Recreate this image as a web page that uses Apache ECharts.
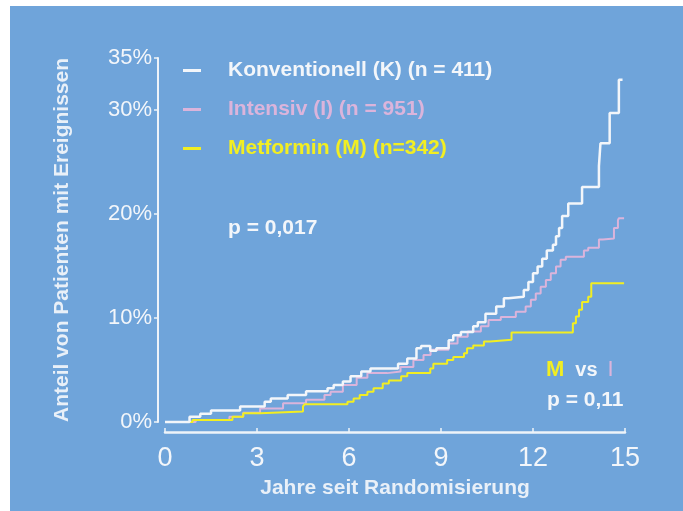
<!DOCTYPE html>
<html>
<head>
<meta charset="utf-8">
<title>Ereignisse nach Randomisierung</title>
<script src="https://cdn.jsdelivr.net/npm/echarts@6/dist/echarts.min.js"></script>
<style>
	html, body { margin: 0; padding: 0; background: #ffffff; }
	#chart { position: absolute; left: 10px; top: 6px; width: 673px; height: 505px; }
</style>
</head>
<body>
<div id="chart"></div>
<script>
	// Jahre, Anteil in %  (Stufenkurven)
	var seriesNames = ['Konventionell (K) (n = 411)', 'Intensiv (I) (n = 951)', 'Metformin (M) (n=342)'];
	var konventionell = [
		[0, 0], [0.8, 0.5], [1.15, 0.8], [1.5, 1.1], [2.45, 1.5], [3.25, 1.95], [3.45, 2.25], [4.0, 2.6],
		[4.6, 2.95], [5.3, 3.25], [5.5, 3.55], [5.8, 3.9], [6.05, 4.4], [6.4, 4.85], [6.7, 5.15], [7.6, 5.6],
		[7.9, 6.1], [8.2, 7.1], [8.35, 7.3], [8.65, 6.85], [8.85, 7.1], [9.25, 7.85], [9.4, 8.35], [9.65, 8.65],
		[10.05, 9.2], [10.2, 9.6], [10.45, 10.4], [10.8, 11.1], [11.05, 11.9], [11.2, 12.05], [11.7, 12.7],
		[11.85, 13.45], [12.0, 14.3], [12.15, 14.95], [12.3, 15.7], [12.45, 16.5], [12.65, 17.05], [12.75, 17.85],
		[12.85, 18.65], [12.95, 19.8], [13.15, 21.0], [13.6, 22.6], [14.15, 24.6], [14.2, 26.8], [14.5, 29.7],
		[14.8, 32.9], [14.92, 32.9]
	];
	var intensiv = [
		[0, 0], [1.0, 0.2], [2.1, 0.5], [2.55, 0.9], [3.1, 1.3], [3.85, 1.8], [4.6, 2.15], [5.2, 2.6], [5.4, 2.9],
		[5.8, 3.55], [6.25, 4.25], [6.6, 4.7], [7.25, 4.85], [7.68, 5.3], [8.1, 5.95], [8.43, 6.45], [8.66, 6.95],
		[9.25, 7.55], [9.54, 8.2], [9.87, 8.7], [10.3, 9.2], [10.55, 9.8], [10.95, 10.1], [11.44, 10.6],
		[11.76, 11.1], [11.93, 11.75], [12.09, 12.35], [12.25, 13.0], [12.42, 13.65], [12.58, 14.3], [12.75, 14.95],
		[12.9, 15.6], [13.07, 15.9], [13.66, 16.5], [13.8, 16.75], [14.15, 17.55], [14.28, 17.65], [14.64, 18.65],
		[14.77, 19.4], [14.8, 19.6], [14.97, 19.6]
	];
	var metformin = [
		[0, 0], [0.9, 0.2], [2.2, 0.5], [2.55, 0.85], [3.1, 1.0], [4.5, 1.5], [4.55, 1.7], [5.95, 1.95],
		[6.15, 2.25], [6.35, 2.6], [6.6, 2.9], [6.8, 3.25], [7.1, 3.7], [7.3, 4.0], [7.7, 4.4], [7.9, 4.7],
		[8.65, 5.15], [8.75, 5.6], [9.2, 5.95], [9.4, 6.25], [9.75, 6.6], [9.85, 7.1], [10.05, 7.35], [10.4, 7.75],
		[10.6, 7.9], [11.3, 8.6], [13.3, 9.5], [13.4, 10.15], [13.5, 10.8], [13.6, 11.55], [13.8, 12.05],
		[13.9, 13.35], [14.97, 13.35]
	];
	var yTicks = [0, 10, 20, 30, 35];
	var xTicks = [0, 3, 6, 9, 12, 15];

	var fontFam = '"Liberation Sans", Arial, sans-serif';
	var white = '#f3f6fa';
	var pink = '#dbb4db';
	var yellow = '#f2ee22';

	var myChart = echarts.init(document.getElementById('chart'));
	var option = {
		backgroundColor: '#6fa4da',
		animation: false,
		grid: {
			left: 155,
			right: 58,
			top: 52,
			bottom: 89
		},
		legend: {
			orient: 'vertical',
			left: 168,
			top: 49,
			itemWidth: 18,
			itemHeight: 3,
			itemGap: 18,
			icon: 'rect',
			selectedMode: false,
			textStyle: {
				fontFamily: fontFam,
				fontWeight: 'bold',
				fontSize: 21,
				lineHeight: 21,
				padding: [0, 0, 0, 22]
			},
			data: [
				{ name: seriesNames[0], textStyle: { color: white } },
				{ name: seriesNames[1], textStyle: { color: pink } },
				{ name: seriesNames[2], textStyle: { color: yellow } }
			]
		},
		xAxis: {
			type: 'value',
			min: 0,
			max: 15,
			interval: 3,
			offset: 10,
			name: 'Jahre seit Randomisierung',
			nameLocation: 'middle',
			nameGap: 46,
			nameTextStyle: {
				color: '#e9f0f8',
				fontFamily: fontFam,
				fontWeight: 'bold',
				fontSize: 21
			},
			axisLine: { onZero: false, lineStyle: { color: '#eef3f9', width: 2.5 } },
			axisTick: { inside: true, length: 4, lineStyle: { color: '#eef3f9', width: 1.5 } },
			axisLabel: {
				color: '#f3f6fa',
				fontFamily: fontFam,
				fontSize: 27,
				margin: 13,
				customValues: xTicks
			},
			splitLine: { show: false }
		},
		yAxis: {
			type: 'value',
			min: 0,
			max: 35,
			offset: 7,
			name: 'Anteil von Patienten mit Ereignissen',
			nameLocation: 'middle',
			nameGap: 85,
			nameTextStyle: {
				color: '#e9f0f8',
				fontFamily: fontFam,
				fontWeight: 'bold',
				fontSize: 21
			},
			axisLine: { show: true, onZero: false, lineStyle: { color: '#eef3f9', width: 2 } },
			axisTick: { show: true, length: 4, customValues: yTicks, lineStyle: { color: '#eef3f9', width: 1.5 } },
			axisLabel: {
				color: '#f3f6fa',
				fontFamily: fontFam,
				fontSize: 22,
				margin: 6,
				customValues: yTicks,
				formatter: '{value}%'
			},
			splitLine: { show: false }
		},
		series: [{
			name: seriesNames[1],
			type: 'line',
			step: 'end',
			showSymbol: false,
			clip: false,
			color: pink,
			lineStyle: { width: 2, color: pink },
			data: intensiv
		}, {
			name: seriesNames[2],
			type: 'line',
			step: 'end',
			showSymbol: false,
			clip: false,
			color: yellow,
			lineStyle: { width: 2, color: yellow },
			data: metformin
		}, {
			name: seriesNames[0],
			type: 'line',
			step: 'end',
			showSymbol: false,
			clip: false,
			color: white,
			lineStyle: { width: 2.5, color: white },
			data: konventionell
		}],
		graphic: [{
			type: 'text',
			left: 218,
			top: 212,
			style: {
				text: 'p = 0,017',
				fill: white,
				font: 'bold 21px ' + fontFam
			}
		}, {
			type: 'text',
			left: 536,
			top: 353,
			style: {
				text: '{m|M}{v|vs}{i|I}',
				rich: {
					m: { fill: yellow, font: 'bold 22px ' + fontFam },
					v: { fill: white, font: 'bold 20px ' + fontFam, padding: [0, 10, 0, 11] },
					i: { fill: pink, font: '22px ' + fontFam }
				}
			}
		}, {
			type: 'text',
			left: 537,
			top: 384,
			style: {
				text: 'p = 0,11',
				fill: white,
				font: 'bold 21px ' + fontFam
			}
		}]
	};
	myChart.setOption(option);
</script>
</body>
</html>
